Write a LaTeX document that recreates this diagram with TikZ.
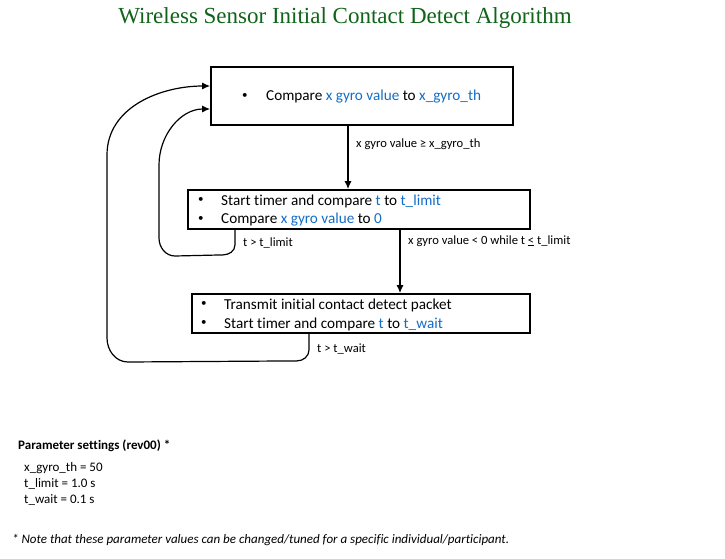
\documentclass[tikz,border=0pt]{standalone}
\usepackage{fontspec}
\setmainfont{Carlito}[Ligatures=NoCommon]
\newfontfamily\titlefont{Liberation Serif}
\usepackage{tikz}
\usetikzlibrary{arrows.meta}

\definecolor{titlegreen}{RGB}{15,100,25}
\definecolor{varblue}{RGB}{20,110,200}
\newcommand{\vb}[1]{\textcolor{varblue}{#1}}

\tikzset{
  box/.style={draw, line width=1.8pt, inner sep=0pt},
  line/.style={line width=1.2pt, -{Latex[length=8pt,width=7pt]}},
  lbl/.style={anchor=west, font=\fontsize{12.6}{15}\selectfont, inner sep=0pt},
  item/.style={anchor=west, font=\fontsize{15.2}{18}\selectfont, inner sep=0pt},
  dot/.style={anchor=west, font=\fontsize{11}{13}\selectfont, inner sep=0pt}
}

\begin{document}
\begin{tikzpicture}[x=1pt,y=-1pt]
	\useasboundingbox (0,0) rectangle (725,559);
	\fill[white] (0,0) rectangle (725,559);
	% title
	\node[titlegreen,font=\titlefont\fontsize{23}{26}\selectfont] (title) at (345,18) {Wireless Sensor Initial Contact Detect Algorithm};
	% boxes
	\node[box,minimum width=302pt,minimum height=58pt] (cmp) at (362,96) {};
	\node[box,minimum width=342pt,minimum height=39pt] (timer) at (359,209.5) {};
	\node[box,minimum width=338pt,minimum height=39pt] (send) at (361,313.5) {};
	% box texts
	\node[dot] (b1) at (242,96) {\textbullet};
	\node[item] (t1) at (266,97) {Compare \vb{x gyro value} to \vb{x\_gyro\_th}};
	\node[dot] (b2) at (198,200) {\textbullet};
	\node[item] (t2) at (221,201) {Start timer and compare \vb{t} to \vb{t\_limit}};
	\node[dot] (b3) at (198,219) {\textbullet};
	\node[item] (t3) at (221,220) {Compare \vb{x gyro value} to \vb{0}};
	\node[dot] (b4) at (201,304) {\textbullet};
	\node[item] (t4) at (224,305) {Transmit initial contact detect packet};
	\node[dot] (b5) at (201,323) {\textbullet};
	\node[item] (t5) at (224,324) {Start timer and compare \vb{t} to \vb{t\_wait}};
	% arrows down
	\draw[line] ([xshift=-14pt]cmp.south) -- ([xshift=-11pt]timer.north);
	\node[lbl] (l1) at (356,144) {x gyro value ≥ x\_gyro\_th};
	\draw[line] ([xshift=41pt]timer.south) -- ([xshift=39pt]send.north);
	\node[lbl] (l2) at (408,241) {x gyro value < 0 while t \underline{<} t\_limit};
	% loops back
	\draw[line] ([xshift=-124pt]timer.south) -- ++(0,15) to[out=-90,in=0] ++(-12,10) -- (175,256) to[out=180,in=-90] (159,238) -- (159,165) to[out=90,in=180] ([yshift=-13pt]cmp.west);
	\node[lbl] (l3) at (243,243) {t > t\_limit};
	\draw[line] ([xshift=-52pt]send.south) -- ++(0,16) to[out=-90,in=0] ++(-12,11) -- (128,362) to[out=180,in=-90] (107,338) -- (107,155) to[out=90,in=180] ([yshift=10pt]cmp.west);
	\node[lbl] (l4) at (317,349) {t > t\_wait};
	% parameters
	\node[anchor=west,font=\bfseries\fontsize{13}{15}\selectfont,inner sep=0pt] (par) at (18,446) {Parameter settings (rev00) *};
	\node[anchor=north west,font=\fontsize{13}{16}\selectfont,inner sep=0pt,align=left] (vals) at (24,462) {x\_gyro\_th = 50\\t\_limit = 1.0 s\\t\_wait = 0.1 s};
	\node[anchor=west,font=\itshape\fontsize{13}{15}\selectfont,inner sep=0pt] (note) at (12,540) {* Note that these parameter values can be changed/tuned for a specific individual/participant.};
\end{tikzpicture}
\end{document}
